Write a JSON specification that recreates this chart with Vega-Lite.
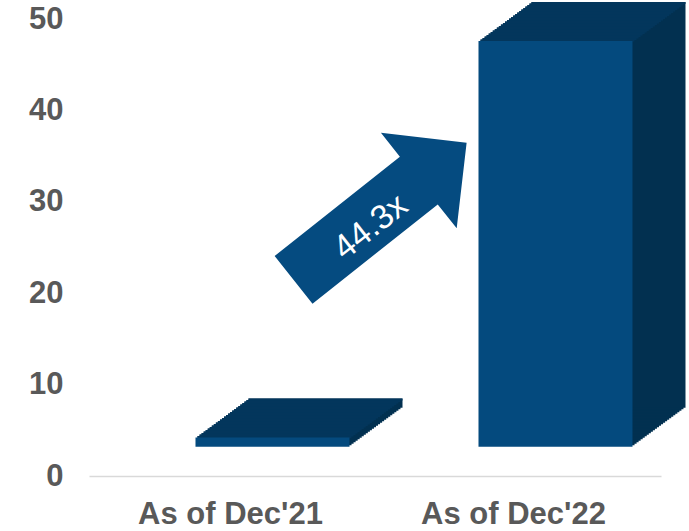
{
  "$schema": "https://vega.github.io/schema/vega-lite/v6.json",
  "autosize": {"type": "none"},
  "padding": {"left": 89, "top": 19, "right": 28, "bottom": 55},
  "width": 572,
  "height": 457,
  "background": "#ffffff",
  "config": {"view": {"stroke": null}, "font": "Liberation Sans"},
  "layer": [
    {
      "data": {"values": [
        {"period": "As of Dec'21", "value": 1.0},
        {"period": "As of Dec'22", "value": 44.4}
      ]},
      "encoding": {
        "x": {"field": "period", "type": "nominal", "sort": null,
          "scale": {"paddingInner": 0.2, "paddingOuter": 0.1106, "align": 0.452},
          "axis": {"title": null, "labelAngle": 0, "ticks": false, "tickSize": 0, "labelPadding": 23, "labelLimit": 0,
            "labelFontSize": 31, "labelFontWeight": "bold", "labelColor": "#595959", "labelFont": "Liberation Sans",
            "domainColor": "#d9d9d9", "domainWidth": 1.5}},
        "y": {"field": "value", "type": "quantitative",
          "scale": {"domain": [0, 50], "nice": false, "zero": true},
          "axis": {"title": null, "grid": false, "domain": false, "ticks": false, "tickSize": 0, "labelPadding": 26,
            "values": [0, 10, 20, 30, 40, 50],
            "labelFontSize": 31, "labelFontWeight": "bold", "labelColor": "#595959", "labelFont": "Liberation Sans"}}
      },
      "layer": [
        {"mark": {"type": "bar", "width": 154, "color": "#023050", "xOffset": 44.04, "yOffset": -30.8, "y2Offset": -30.8}},
        {"mark": {"type": "bar", "width": 154, "color": "#023050", "xOffset": 46.08, "yOffset": -32.3, "y2Offset": -32.3}},
        {"mark": {"type": "bar", "width": 154, "color": "#023050", "xOffset": 48.12, "yOffset": -33.8, "y2Offset": -33.8}},
        {"mark": {"type": "bar", "width": 154, "color": "#023050", "xOffset": 50.15, "yOffset": -35.3, "y2Offset": -35.3}},
        {"mark": {"type": "bar", "width": 154, "color": "#023050", "xOffset": 52.19, "yOffset": -36.8, "y2Offset": -36.8}},
        {"mark": {"type": "bar", "width": 154, "color": "#023050", "xOffset": 54.23, "yOffset": -38.3, "y2Offset": -38.3}},
        {"mark": {"type": "bar", "width": 154, "color": "#023050", "xOffset": 56.27, "yOffset": -39.8, "y2Offset": -39.8}},
        {"mark": {"type": "bar", "width": 154, "color": "#023050", "xOffset": 58.31, "yOffset": -41.3, "y2Offset": -41.3}},
        {"mark": {"type": "bar", "width": 154, "color": "#023050", "xOffset": 60.35, "yOffset": -42.8, "y2Offset": -42.8}},
        {"mark": {"type": "bar", "width": 154, "color": "#023050", "xOffset": 62.38, "yOffset": -44.3, "y2Offset": -44.3}},
        {"mark": {"type": "bar", "width": 154, "color": "#023050", "xOffset": 64.42, "yOffset": -45.8, "y2Offset": -45.8}},
        {"mark": {"type": "bar", "width": 154, "color": "#023050", "xOffset": 66.46, "yOffset": -47.3, "y2Offset": -47.3}},
        {"mark": {"type": "bar", "width": 154, "color": "#023050", "xOffset": 68.5, "yOffset": -48.8, "y2Offset": -48.8}},
        {"mark": {"type": "bar", "width": 154, "color": "#023050", "xOffset": 70.54, "yOffset": -50.3, "y2Offset": -50.3}},
        {"mark": {"type": "bar", "width": 154, "color": "#023050", "xOffset": 72.58, "yOffset": -51.8, "y2Offset": -51.8}},
        {"mark": {"type": "bar", "width": 154, "color": "#023050", "xOffset": 74.62, "yOffset": -53.3, "y2Offset": -53.3}},
        {"mark": {"type": "bar", "width": 154, "color": "#023050", "xOffset": 76.65, "yOffset": -54.8, "y2Offset": -54.8}},
        {"mark": {"type": "bar", "width": 154, "color": "#023050", "xOffset": 78.69, "yOffset": -56.3, "y2Offset": -56.3}},
        {"mark": {"type": "bar", "width": 154, "color": "#023050", "xOffset": 80.73, "yOffset": -57.8, "y2Offset": -57.8}},
        {"mark": {"type": "bar", "width": 154, "color": "#023050", "xOffset": 82.77, "yOffset": -59.3, "y2Offset": -59.3}},
        {"mark": {"type": "bar", "width": 154, "color": "#023050", "xOffset": 84.81, "yOffset": -60.8, "y2Offset": -60.8}},
        {"mark": {"type": "bar", "width": 154, "color": "#023050", "xOffset": 86.85, "yOffset": -62.3, "y2Offset": -62.3}},
        {"mark": {"type": "bar", "width": 154, "color": "#023050", "xOffset": 88.88, "yOffset": -63.8, "y2Offset": -63.8}},
        {"mark": {"type": "bar", "width": 154, "color": "#023050", "xOffset": 90.92, "yOffset": -65.3, "y2Offset": -65.3}},
        {"mark": {"type": "bar", "width": 154, "color": "#023050", "xOffset": 92.96, "yOffset": -66.8, "y2Offset": -66.8}},
        {"mark": {"type": "bar", "width": 154, "color": "#023050", "xOffset": 95, "yOffset": -68.3, "y2Offset": -68.3}},
        {"mark": {"type": "bar", "width": 154, "color": "#03365c", "xOffset": 44.04, "yOffset": -30.8, "y2Offset": -28.8}, "encoding": {"y2": {"field": "value"}}},
        {"mark": {"type": "bar", "width": 154, "color": "#03365c", "xOffset": 46.08, "yOffset": -32.3, "y2Offset": -30.3}, "encoding": {"y2": {"field": "value"}}},
        {"mark": {"type": "bar", "width": 154, "color": "#03365c", "xOffset": 48.12, "yOffset": -33.8, "y2Offset": -31.8}, "encoding": {"y2": {"field": "value"}}},
        {"mark": {"type": "bar", "width": 154, "color": "#03365c", "xOffset": 50.15, "yOffset": -35.3, "y2Offset": -33.3}, "encoding": {"y2": {"field": "value"}}},
        {"mark": {"type": "bar", "width": 154, "color": "#03365c", "xOffset": 52.19, "yOffset": -36.8, "y2Offset": -34.8}, "encoding": {"y2": {"field": "value"}}},
        {"mark": {"type": "bar", "width": 154, "color": "#03365c", "xOffset": 54.23, "yOffset": -38.3, "y2Offset": -36.3}, "encoding": {"y2": {"field": "value"}}},
        {"mark": {"type": "bar", "width": 154, "color": "#03365c", "xOffset": 56.27, "yOffset": -39.8, "y2Offset": -37.8}, "encoding": {"y2": {"field": "value"}}},
        {"mark": {"type": "bar", "width": 154, "color": "#03365c", "xOffset": 58.31, "yOffset": -41.3, "y2Offset": -39.3}, "encoding": {"y2": {"field": "value"}}},
        {"mark": {"type": "bar", "width": 154, "color": "#03365c", "xOffset": 60.35, "yOffset": -42.8, "y2Offset": -40.8}, "encoding": {"y2": {"field": "value"}}},
        {"mark": {"type": "bar", "width": 154, "color": "#03365c", "xOffset": 62.38, "yOffset": -44.3, "y2Offset": -42.3}, "encoding": {"y2": {"field": "value"}}},
        {"mark": {"type": "bar", "width": 154, "color": "#03365c", "xOffset": 64.42, "yOffset": -45.8, "y2Offset": -43.8}, "encoding": {"y2": {"field": "value"}}},
        {"mark": {"type": "bar", "width": 154, "color": "#03365c", "xOffset": 66.46, "yOffset": -47.3, "y2Offset": -45.3}, "encoding": {"y2": {"field": "value"}}},
        {"mark": {"type": "bar", "width": 154, "color": "#03365c", "xOffset": 68.5, "yOffset": -48.8, "y2Offset": -46.8}, "encoding": {"y2": {"field": "value"}}},
        {"mark": {"type": "bar", "width": 154, "color": "#03365c", "xOffset": 70.54, "yOffset": -50.3, "y2Offset": -48.3}, "encoding": {"y2": {"field": "value"}}},
        {"mark": {"type": "bar", "width": 154, "color": "#03365c", "xOffset": 72.58, "yOffset": -51.8, "y2Offset": -49.8}, "encoding": {"y2": {"field": "value"}}},
        {"mark": {"type": "bar", "width": 154, "color": "#03365c", "xOffset": 74.62, "yOffset": -53.3, "y2Offset": -51.3}, "encoding": {"y2": {"field": "value"}}},
        {"mark": {"type": "bar", "width": 154, "color": "#03365c", "xOffset": 76.65, "yOffset": -54.8, "y2Offset": -52.8}, "encoding": {"y2": {"field": "value"}}},
        {"mark": {"type": "bar", "width": 154, "color": "#03365c", "xOffset": 78.69, "yOffset": -56.3, "y2Offset": -54.3}, "encoding": {"y2": {"field": "value"}}},
        {"mark": {"type": "bar", "width": 154, "color": "#03365c", "xOffset": 80.73, "yOffset": -57.8, "y2Offset": -55.8}, "encoding": {"y2": {"field": "value"}}},
        {"mark": {"type": "bar", "width": 154, "color": "#03365c", "xOffset": 82.77, "yOffset": -59.3, "y2Offset": -57.3}, "encoding": {"y2": {"field": "value"}}},
        {"mark": {"type": "bar", "width": 154, "color": "#03365c", "xOffset": 84.81, "yOffset": -60.8, "y2Offset": -58.8}, "encoding": {"y2": {"field": "value"}}},
        {"mark": {"type": "bar", "width": 154, "color": "#03365c", "xOffset": 86.85, "yOffset": -62.3, "y2Offset": -60.3}, "encoding": {"y2": {"field": "value"}}},
        {"mark": {"type": "bar", "width": 154, "color": "#03365c", "xOffset": 88.88, "yOffset": -63.8, "y2Offset": -61.8}, "encoding": {"y2": {"field": "value"}}},
        {"mark": {"type": "bar", "width": 154, "color": "#03365c", "xOffset": 90.92, "yOffset": -65.3, "y2Offset": -63.3}, "encoding": {"y2": {"field": "value"}}},
        {"mark": {"type": "bar", "width": 154, "color": "#03365c", "xOffset": 92.96, "yOffset": -66.8, "y2Offset": -64.8}, "encoding": {"y2": {"field": "value"}}},
        {"mark": {"type": "bar", "width": 154, "color": "#03365c", "xOffset": 95, "yOffset": -68.3, "y2Offset": -66.3}, "encoding": {"y2": {"field": "value"}}},
        {"mark": {"type": "bar", "width": 154, "color": "#044a7e", "xOffset": 42, "yOffset": -29.3, "y2Offset": -29.3}}
      ]
    },
    {
      "data": {"values": [{"label": "44.3x"}]},
      "mark": {"type": "point", "filled": true, "opacity": 1, "color": "#054b80", "strokeWidth": 0,
        "shape": "M -1 -0.276 L 0.4475 -0.276 L 0.4475 -0.5525 L 1 0 L 0.4475 0.5525 L 0.4475 0.276 L -1 0.276 Z",
        "size": 48753, "angle": 321.6, "xOffset": 149.6},
      "encoding": {"x": {"datum": "As of Dec'21"}, "y": {"datum": 28.97}}
    },
    {
      "data": {"values": [{"label": "44.3x"}]},
      "mark": {"type": "text", "color": "#ffffff", "fontSize": 34, "font": "Liberation Sans", "angle": 321.6,
        "align": "center", "baseline": "middle", "xOffset": 140.5},
      "encoding": {"x": {"datum": "As of Dec'21"}, "y": {"datum": 27.2}, "text": {"field": "label"}}
    }
  ]
}
